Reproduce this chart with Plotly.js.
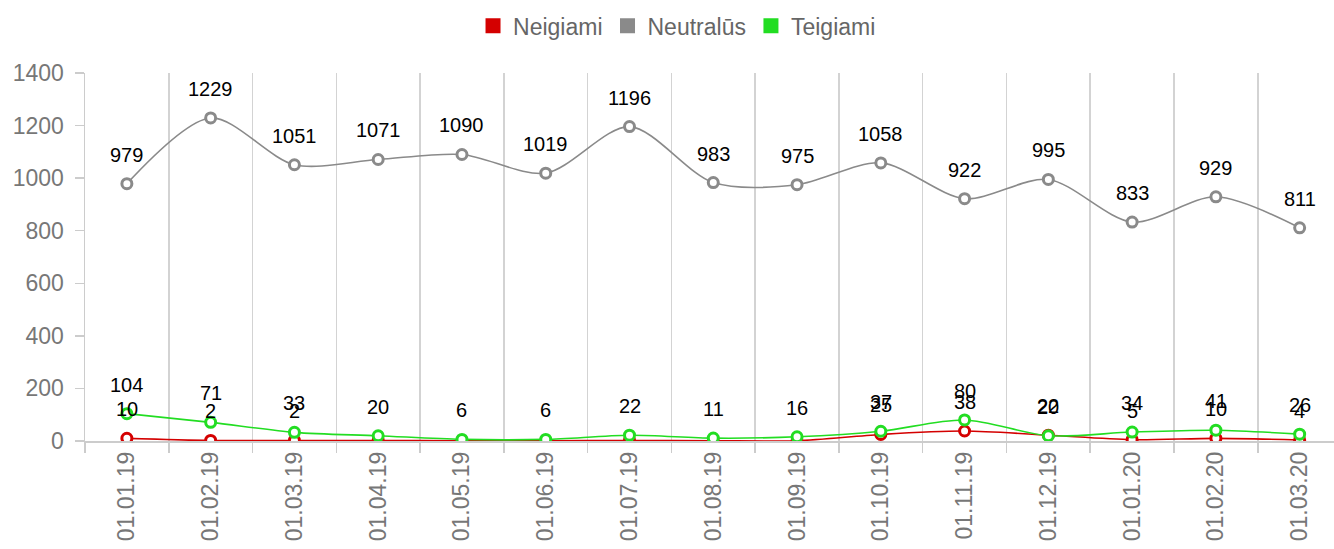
<!DOCTYPE html>
<html>
<head>
<meta charset="utf-8">
<script src="https://cdn.plot.ly/plotly-3.0.1.min.js"></script>
<style>html,body{margin:0;padding:0;background:#fff;}#chart{width:1334px;height:549px;}</style>
</head>
<body>
<div id="chart"></div>
<script>
const categories = ["01.01.19","01.02.19","01.03.19","01.04.19","01.05.19","01.06.19","01.07.19","01.08.19","01.09.19","01.10.19","01.11.19","01.12.19","01.01.20","01.02.20","01.03.20"];
const negative = [10, 2, 2, 2, 1, 1, 2, 1, 1, 25, 38, 22, 5, 10, 4];
const neutral = [979, 1229, 1051, 1071, 1090, 1019, 1196, 983, 975, 1058, 922, 995, 833, 929, 811];
const positive = [104, 71, 33, 20, 6, 6, 22, 11, 16, 37, 80, 20, 34, 41, 26];
// red labels hidden by overlap in the original at these indices
const negativeLabelShown = [true, true, true, false, false, false, false, false, false, true, true, true, true, true, true];

const seriesNames = ["Neigiami", "Neutralūs", "Teigiami"];
const colors = ["#d40000", "#8a8a8a", "#22dd22"];
const font = "Liberation Sans, Arial, sans-serif";

function lineTrace(vals, i) {
  return {
    type: "scatter", mode: "lines+markers", x: categories, y: vals, name: seriesNames[i],
    showlegend: false, hoverinfo: "x+y",
    line: {color: colors[i], width: 1.6, shape: "spline", smoothing: 0.85},
    marker: {size: 10, color: "#ffffff", line: {color: colors[i], width: 3}}
  };
}
function legendTrace(i) {
  return {
    type: "scatter", mode: "markers", x: [null], y: [null], name: seriesNames[i],
    marker: {symbol: "square", size: 15, color: colors[i]}, hoverinfo: "skip"
  };
}
const traces = [lineTrace(negative, 0), lineTrace(neutral, 1), lineTrace(positive, 2),
  legendTrace(0), legendTrace(1), legendTrace(2)];

const annotations = [];
function addLabels(vals, shown) {
  vals.forEach((v, k) => {
    if (shown && !shown[k]) return;
    annotations.push({x: categories[k], y: v, text: String(v), showarrow: false,
      yanchor: "middle", yshift: 29, font: {family: font, size: 20, color: "#000"}});
  });
}
addLabels(neutral);
addLabels(negative, negativeLabelShown);
addLabels(positive);

const layout = {
  width: 1334, height: 549,
  margin: {l: 85, r: 0, t: 73, b: 108},
  paper_bgcolor: "#fff", plot_bgcolor: "#fff",
  font: {family: font, color: "#777"},
  showlegend: true,
  legend: {orientation: "h", x: 0.474, xanchor: "center", y: 1.128, yanchor: "middle",
    font: {family: font, size: 23, color: "#666"}, itemsizing: "trace", traceorder: "normal"},
  xaxis: {
    type: "category", range: [-0.5, 14.41], tickson: "boundaries",
    showgrid: true, gridcolor: "#d3d3d3", gridwidth: 1.5,
    showline: true, linecolor: "#cccccc", linewidth: 1.5,
    ticks: "outside", ticklen: 10, tickcolor: "#cccccc", tickwidth: 1.5,
    tickangle: -90, tickfont: {family: font, size: 23, color: "#777"}, zeroline: false,
    fixedrange: true
  },
  yaxis: {
    range: [0, 1400], dtick: 200, showgrid: false, zeroline: false,
    showline: true, linecolor: "#cccccc", linewidth: 1.5,
    ticks: "outside", ticklen: 9, tickcolor: "#cccccc", tickwidth: 1.5, ticklabelstandoff: 6,
    tickfont: {family: font, size: 23, color: "#777"}, fixedrange: true
  },
  annotations: annotations
};
Plotly.newPlot("chart", traces, layout, {displayModeBar: false, staticPlot: true});
</script>
</body>
</html>
